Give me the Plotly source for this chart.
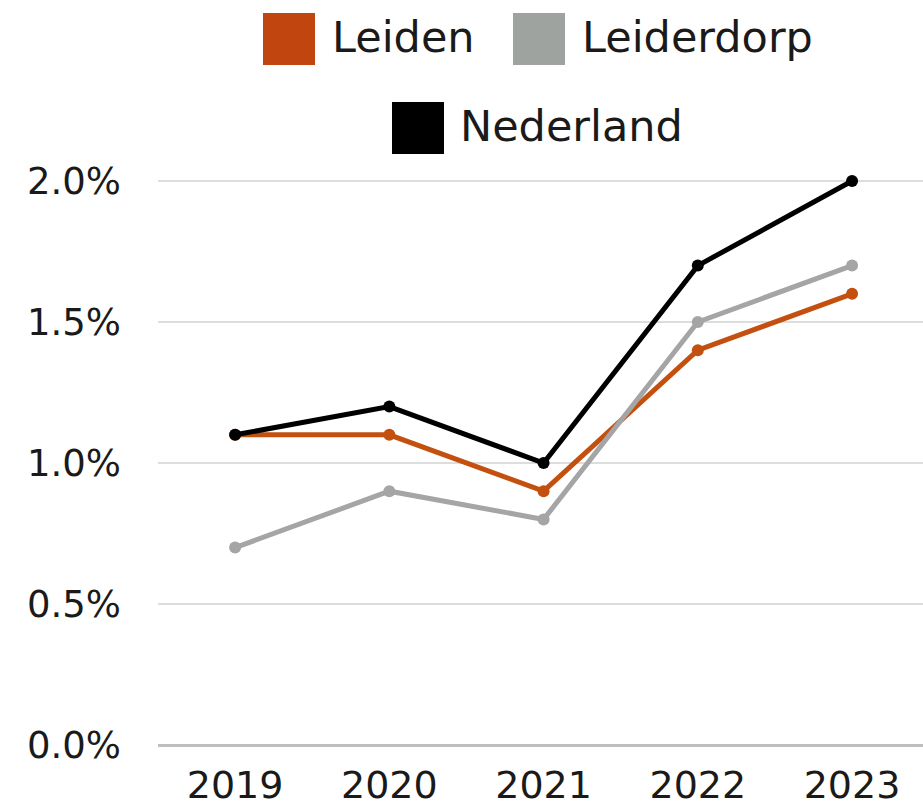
import plotly.graph_objects as go

years = ["2019", "2020", "2021", "2022", "2023"]
leiden = [1.1, 1.1, 0.9, 1.4, 1.6]
leiderdorp = [0.7, 0.9, 0.8, 1.5, 1.7]
nederland = [1.1, 1.2, 1.0, 1.7, 2.0]
y_ticks = [0.0, 0.5, 1.0, 1.5, 2.0]
y_tick_labels = ["0.0%", "0.5%", "1.0%", "1.5%", "2.0%"]

colors = {"Leiden": "#C4500F", "Leiderdorp": "#A5A5A5", "Nederland": "#000000"}
swatch = {"Leiden": "#C0450F", "Leiderdorp": "#9EA39F", "Nederland": "#000000"}
FONT = "DejaVu Sans"
TXT = "#1a1a1a"

W, H = 923, 806
L, R, T, B = 158, 0, 175, 61
PW, PH = W - L - R, H - T - B
Y_TOP = PH / 282.0  # 282 px per 1.0 percentage point

def px(x):
    return (x - L) / PW

def py(y):
    return (H - B - y) / PH

fig = go.Figure()
for name, vals in [("Leiden", leiden), ("Leiderdorp", leiderdorp), ("Nederland", nederland)]:
    fig.add_trace(go.Scatter(
        x=years, y=vals, mode="lines+markers", name=name,
        line=dict(color=colors[name], width=5),
        marker=dict(color=colors[name], size=12),
        showlegend=False, cliponaxis=False,
    ))

# (name, square left, square top, text left, text centre y)
legend_items = [
    ("Leiden", 263, 13, 330, 37),
    ("Leiderdorp", 513, 13, 580, 37),
    ("Nederland", 392, 102, 458, 126),
]
shapes = []
annotations = []
for name, sx, sy, tx, ty in legend_items:
    shapes.append(dict(type="rect", xref="paper", yref="paper",
                       x0=px(sx), x1=px(sx + 52), y0=py(sy + 52), y1=py(sy),
                       fillcolor=swatch[name], line=dict(width=0)))
    annotations.append(dict(text=name, xref="paper", yref="paper",
                            x=px(tx), y=py(ty), xanchor="left", yanchor="middle",
                            showarrow=False, font=dict(family=FONT, size=43, color=TXT)))

fig.update_layout(
    width=W, height=H,
    margin=dict(l=L, r=R, t=T, b=B, pad=0),
    paper_bgcolor="white", plot_bgcolor="white",
    shapes=shapes, annotations=annotations,
    showlegend=False,
    xaxis=dict(type="category", range=[-0.5, 4.46], showgrid=False,
               showline=False, zeroline=False, ticks="",
               tickfont=dict(family=FONT, size=38, color=TXT),
               ticklabelstandoff=14),
    yaxis=dict(range=[0, Y_TOP], tickvals=y_ticks, ticktext=y_tick_labels,
               showgrid=True, gridcolor="#DDDDDD", gridwidth=2,
               zeroline=True, zerolinecolor="#BFBFBF", zerolinewidth=2.5,
               showline=False, ticks="",
               tickfont=dict(family=FONT, size=37, color=TXT),
               ticklabelstandoff=36),
)

fig.write_html("out.html", config={"displayModeBar": False},
               post_script="document.body.style.margin='0';document.body.style.overflow='hidden';")
